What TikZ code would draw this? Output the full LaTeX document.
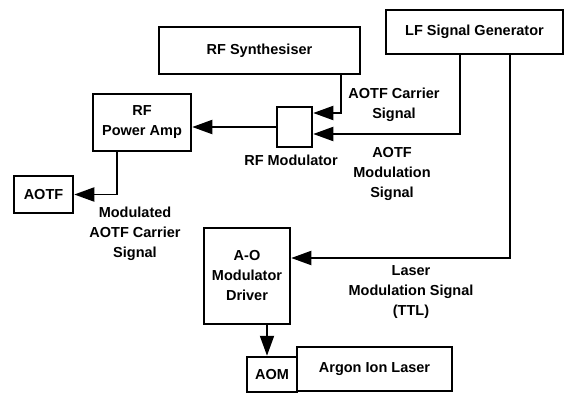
\documentclass[tikz,border=0pt]{standalone}
\usepackage{fontspec}
\setmainfont{Liberation Sans}
\usetikzlibrary{positioning,arrows.meta,calc}
\newcommand{\blockfont}{\fontsize{14.5}{20}\selectfont\bfseries}
\tikzset{
  block/.style={draw, line width=2.5pt, align=center, inner sep=2pt, font=\blockfont},
  sig/.style={line width=1.9pt, -{Triangle[length=20pt,width=14pt]}},
  lbl/.style={align=center, inner sep=1pt, font=\blockfont},
}

\begin{document}
\begin{tikzpicture}[x=1pt,y=-1pt]
\useasboundingbox (0,0) rectangle (565,402);
% Boxes
\node[block, minimum width=201pt, minimum height=47pt] (synth) at (259.5,50.5) {RF Synthesiser};
\node[block, minimum width=177pt, minimum height=44pt] (lfgen) at (474.5,32) {LF Signal Generator};
\node[block, minimum width=98pt, minimum height=57pt] (amp) at (142,122.5) {RF\\Power Amp};
\node[block, minimum width=35pt, minimum height=40pt] (mod) at (294.5,127) {};
\node[block, minimum width=59pt, minimum height=37pt] (aotf) at (43.5,194.5) {AOTF};
\node[block, minimum width=86pt, minimum height=96pt] (driver) at (247,276) {A-O\\Modulator\\Driver};
\node[block, minimum width=155pt, minimum height=44pt] (laser) at (374.5,369) {Argon Ion Laser};
\node[block, minimum width=50pt, minimum height=35pt] (aom) at (272,374.5) {AOM};
% Labels
\node[lbl] (modlbl) at (291,160) {RF Modulator};
\node[lbl] (carrierlbl) at (394,105) {AOTF Carrier\\Signal};
\node[lbl] (modsiglbl) at (392,174) {AOTF\\Modulation\\Signal};
\node[lbl] (aotflbl) at (135,234) {Modulated\\AOTF Carrier\\Signal};
\node[lbl] (laserlbl) at (411,292) {Laser\\Modulation Signal\\(TTL)};
% Signals
\coordinate (aomin) at ([xshift=-5pt]aom.north);
\draw[sig] (mod.west) -- (mod.west -| amp.east);
\draw[sig] ([xshift=81.5pt]synth.south) |- ([yshift=14pt]mod.east);
\draw[sig] ([xshift=-14.5pt]lfgen.south) |- ([yshift=-7pt]mod.east);
\draw[sig] ([xshift=35.5pt]lfgen.south) |- ([yshift=18pt]driver.east);
\draw[sig] ([xshift=-25pt]amp.south) |- (aotf.east);
\draw[sig] (driver.south -| aomin) -- (aomin);
\end{tikzpicture}
\end{document}
